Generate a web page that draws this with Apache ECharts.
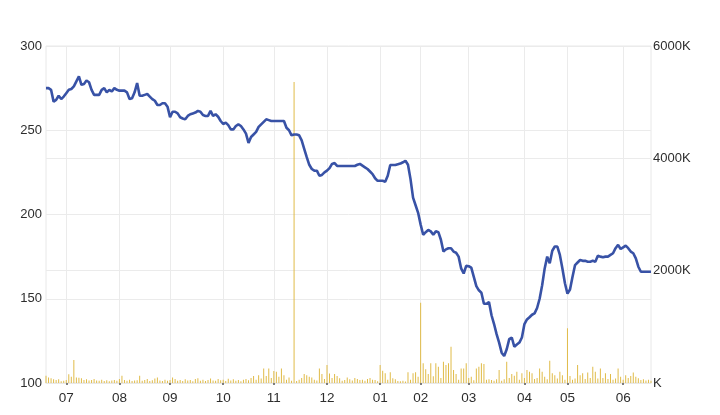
<!DOCTYPE html>
<html>
<head>
<meta charset="utf-8">
<script src="https://cdn.jsdelivr.net/npm/echarts@6/dist/echarts.min.js"></script>
<style>
html,body{margin:0;padding:0;background:#fff;}
#chart{width:720px;height:415px;}
</style>
</head>
<body>
<div id="chart"></div>
<script>
// Month labels and number of trading days shown for each month (first and last are partial)
const monthLabels = ['06','07','08','09','10','11','12','01','02','03','04','05','06'];
const tradingDays = [8,21,20,21,20,21,21,16,19,22,17,22,12];

// Daily closing price (left axis)
const price = [
275,275,274,267,268,270.5,268.5,270,272,274,
274.5,276,279,282,277,277.5,279.5,278.5,274,271,
271,271,274,275,272.5,274,273,275,274,273.5,
273.5,273.5,272.5,268.5,269,272.5,278,270.5,270.5,271,
271.5,270,268.5,267.5,265,265,266,266,264,257.7,
261,261,260,257.7,257,256.5,258.5,259.5,260,260.5,
261.5,261,259,258.5,258.5,261.5,258.5,259.5,258,255.5,
253.7,254.5,253,250.5,250.5,252.5,253.5,252.5,250.5,248,
242.5,246,247.5,249,252,253.5,255,256.5,256,255.5,
255.5,255.5,255.5,255.5,255.5,251.5,250,247,247.5,247.5,
247,244,239,234,229.5,227,226,226,223,223.5,
225,226,227.5,230,230.5,228.8,228.8,228.8,228.8,228.8,
228.8,228.8,228.8,229.5,230,229,228,227,225.5,224,
221.5,220,220,220,219.5,223,229.4,229.4,229.4,229.8,
230.2,231,231.9,229.5,221,210,205.5,201,194,188,
189.5,190.8,190,188,190,189.5,185,178,179.3,180,
180,178,177.3,175,168,165,169.5,169.3,168.5,163,
157.5,155,153.6,147,147,148,140.2,135,129,124,
118,116,120,126,127,121.5,122.8,124,127,135,
137.7,139,140.5,141.3,144.5,150,158,168,175,171,
178.5,181,181,176,168,159.2,153,155.5,163,170,
171.5,173,172.5,172.5,172,172,172.5,172,175.5,175,
174.6,175,175,176,177,180,182,179.5,180.5,181.5,
180,178,177,174,169,166,166,166,166,166
];

// Daily volume in thousands (right axis)
const volumeK = [
130,100,85,65,55,65,30,40,55,155,
110,410,100,95,85,55,65,45,55,70,
45,40,60,35,50,30,45,55,40,70,
130,55,40,60,35,45,50,130,40,55,
70,35,50,80,100,45,35,60,40,55,
100,70,40,55,35,65,45,55,30,70,
85,40,60,35,55,80,45,40,70,50,
60,35,75,45,65,40,55,30,60,70,
50,90,125,60,140,80,260,125,260,90,
215,200,110,260,140,60,100,40,5360,35,
60,90,160,140,110,100,60,45,260,160,
70,320,170,90,160,125,85,40,55,100,
65,45,90,70,55,60,40,70,90,60,
55,30,320,220,175,60,190,85,65,35,
30,40,25,190,60,175,190,110,1430,350,
245,160,350,120,350,290,90,380,320,350,
645,230,160,60,260,260,350,90,110,50,
260,290,350,340,60,65,55,40,65,230,
40,65,380,90,160,130,200,60,175,90,
230,200,175,70,90,260,200,110,65,395,
175,140,80,200,140,60,975,125,60,80,
320,140,175,70,185,90,290,200,80,260,
90,175,70,160,60,80,260,110,60,140,
90,125,185,110,85,55,65,45,60,40
];

// Left axis / right axis tick settings
const priceTicks = {min: 100, max: 300, step: 50};
const volumeTicks = {min: 0, max: 6000, step: 2000};

// Build day categories and month-start indices
const categories = [];
const monthStart = new Set();
monthLabels.forEach((m, k) => {
  for (let d = 0; d < tradingDays[k]; d++) {
    if (d === 0 && k > 0) monthStart.add(categories.length);
    categories.push(m + '#' + d);
  }
});
const isStart = (idx) => monthStart.has(idx);

const FONT = 'Arial, "Liberation Sans", sans-serif';
const chart = echarts.init(document.getElementById('chart'), null, {renderer: 'canvas'});
chart.setOption({
  animation: false,
  backgroundColor: '#fff',
  grid: {left: 46, right: 69, top: 46, bottom: 32, show: true, borderColor: '#e8e8e8', borderWidth: 1},
  graphic: [{
    type: 'line', left: 0, top: 413,
    shape: {x1: 0, y1: 0, x2: 720, y2: 0},
    style: {stroke: '#e4e4e4', lineWidth: 1}
  }],
  xAxis: {
    type: 'category',
    data: categories,
    boundaryGap: false,
    axisLine: {show: true, lineStyle: {color: '#e8e8e8'}},
    axisTick: {show: true, interval: isStart, length: 2, lineStyle: {color: '#555', width: 1.5}},
    axisLabel: {
      interval: isStart,
      formatter: (v) => v.split('#')[0],
      color: '#2d2d2d', fontSize: 13.5, fontFamily: FONT, margin: 8
    },
    splitLine: {show: true, interval: isStart, lineStyle: {color: '#ebebeb', width: 1}}
  },
  yAxis: [
    {
      type: 'value', position: 'left',
      min: priceTicks.min, max: priceTicks.max, interval: priceTicks.step,
      axisLine: {show: false}, axisTick: {show: false},
      axisLabel: {color: '#2d2d2d', fontSize: 13, fontFamily: FONT, margin: 4},
      splitLine: {show: true, lineStyle: {color: '#ebebeb'}}
    },
    {
      type: 'value', position: 'right',
      min: volumeTicks.min, max: volumeTicks.max, interval: volumeTicks.step,
      axisLine: {show: false}, axisTick: {show: false},
      axisLabel: {color: '#2d2d2d', fontSize: 13, fontFamily: FONT, margin: 2,
        formatter: (v) => (v === 0 ? '' : v) + 'K'},
      splitLine: {show: true, lineStyle: {color: '#ebebeb'}}
    }
  ],
  series: [
    {
      type: 'bar', yAxisIndex: 1, data: volumeK, barWidth: 1,
      itemStyle: {color: '#e0bb48'}, z: 2
    },
    {
      type: 'line', yAxisIndex: 0, data: price, symbol: 'none',
      lineStyle: {color: '#3852a6', width: 2.6}, z: 3
    }
  ]
});
</script>
</body>
</html>
